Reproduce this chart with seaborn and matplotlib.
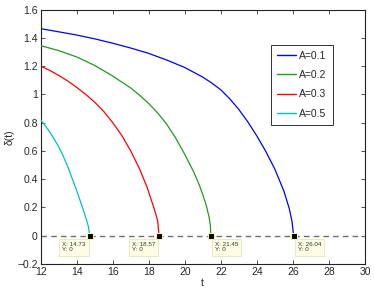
import matplotlib
matplotlib.use("Agg")
import matplotlib.pyplot as plt
import seaborn as sns
import pandas as pd
from matplotlib.ticker import FuncFormatter, MultipleLocator

# ---- data ----
labels = ["A=0.1", "A=0.2", "A=0.3", "A=0.5"]
blue_t = [12, 13, 14, 15, 16, 17, 18, 19, 20, 21, 21.5, 22, 22.5, 23, 23.5, 24, 24.5, 25, 25.5, 25.8, 25.95, 26.04]
blue_d = [1.465, 1.443, 1.42, 1.393, 1.362, 1.328, 1.29, 1.243, 1.19, 1.122, 1.08, 1.032, 0.968, 0.893,
          0.805, 0.705, 0.595, 0.47, 0.315, 0.19, 0.10, 0.0]
green_t = [12, 13, 14, 15, 16, 17, 17.5, 18, 18.5, 19, 19.5, 20, 20.5, 20.8, 21.0, 21.2, 21.35, 21.42, 21.45]
green_d = [1.345, 1.31, 1.265, 1.205, 1.13, 1.045, 0.993, 0.935, 0.868, 0.788, 0.69, 0.575, 0.45, 0.36,
           0.29, 0.21, 0.13, 0.07, 0.0]
red_t = [12, 12.5, 13, 13.5, 14, 14.5, 15, 15.5, 16, 16.5, 17, 17.5, 17.9, 18.2, 18.4, 18.5, 18.57]
red_d = [1.20, 1.17, 1.135, 1.095, 1.05, 1.0, 0.945, 0.88, 0.80, 0.71, 0.60, 0.47, 0.345, 0.23,
         0.15, 0.10, 0.0]
cyan_t = [12, 12.25, 12.5, 12.75, 13.0, 13.25, 13.5, 13.75, 14.0, 14.2, 14.4, 14.55, 14.65, 14.73]
cyan_d = [0.82, 0.78, 0.735, 0.685, 0.63, 0.565, 0.49, 0.405, 0.32, 0.245, 0.17, 0.11, 0.065, 0.0]
tip_x = [14.73, 18.57, 21.45, 26.04]
tip_y = [0, 0, 0, 0]
tip_left = [True, True, False, False]

colors = ["#0000ff", "#1f9a1f", "#ff0000", "#00c0c0"]

series_t = [blue_t, green_t, red_t, cyan_t]
series_d = [blue_d, green_d, red_d, cyan_d]
frames = []
for lab, t, d in zip(labels, series_t, series_d):
    frames.append(pd.DataFrame({"t": t, "d": d, "series": lab}))
df = pd.concat(frames, ignore_index=True)

sns.set_style("ticks")
plt.rcParams["font.family"] = ["Liberation Sans", "DejaVu Sans"]

fig = plt.figure(figsize=(3.74, 2.91), dpi=100)
ax = fig.add_axes([0.1086, 0.093, 0.976 - 0.1086, 0.967 - 0.093])

ax.axhline(0, color="#707070", lw=1.0, ls=(0, (4, 3)), zorder=1)

sns.lineplot(data=df, x="t", y="d", hue="series", palette=colors, sort=False,
             estimator=None, lw=0.9, ax=ax, zorder=3)

ax.scatter(tip_x, tip_y, marker="s", s=14, color="black", edgecolor="#f5f0b0",
           linewidths=0.8, zorder=5)
for x, y, left in zip(tip_x, tip_y, tip_left):
    txt = f"X: {x:.2f}\nY: {y:g}"
    ax.annotate(txt, (x, y), xytext=(-4 if left else 4, -6), textcoords="offset pixels",
                ha="right" if left else "left", va="top", multialignment="left",
                fontsize=4.5, color="#333333",
                bbox=dict(boxstyle="square,pad=0.5", fc="#fdfde6", ec="#e8e4c0", lw=0.6),
                zorder=6)

ax.set_xlim(12, 30)
ax.set_ylim(-0.2, 1.6)
ax.xaxis.set_major_locator(MultipleLocator(2))
ax.yaxis.set_major_locator(MultipleLocator(0.2))
ax.yaxis.set_major_formatter(FuncFormatter(lambda v, p: f"{v:g}".replace("-", "\u2212") if abs(v) > 1e-9 else "0"))
ax.tick_params(direction="in", top=True, right=True, labelsize=7.5, length=3, width=0.6,
               color="#333333", pad=2)
for s in ax.spines.values():
    s.set_color("#222222")
    s.set_linewidth(0.8)
ax.set_xlabel("t", fontsize=7.5, labelpad=1)
ax.set_ylabel("δ(t)", fontsize=7.5, labelpad=2)

leg = ax.legend(loc="upper right", bbox_to_anchor=(0.90, 0.861), fontsize=7.5,
                frameon=True, fancybox=False, edgecolor="#333333", framealpha=1,
                handlelength=1.9, labelspacing=0.9, borderpad=0.55, handletextpad=0.3,
                borderaxespad=0)
leg.get_frame().set_linewidth(0.7)
for h in leg.get_lines():
    h.set_linewidth(1.0)

fig.savefig("out.png", dpi=100)
